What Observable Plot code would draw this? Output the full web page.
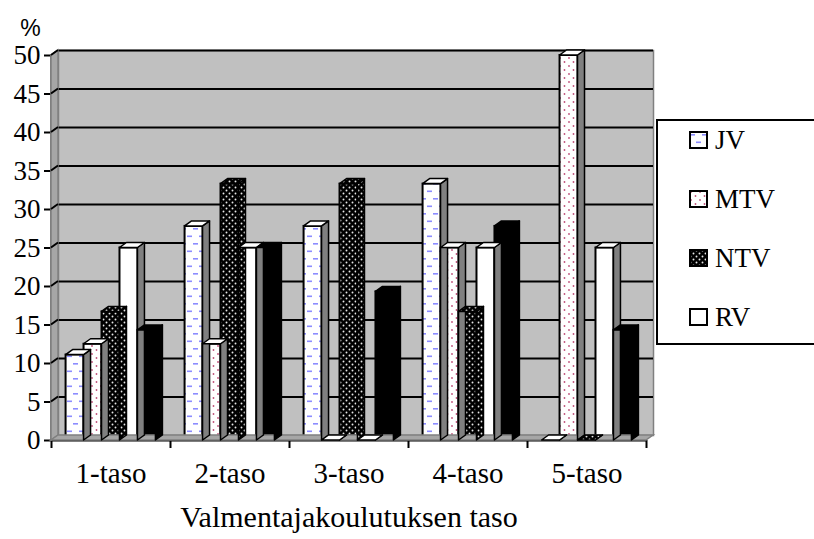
<!DOCTYPE html>
<html><head><meta charset="utf-8">
<script src="https://cdn.jsdelivr.net/npm/d3@7"></script>
<script src="https://cdn.jsdelivr.net/npm/@observablehq/plot@0.6"></script>
<style>
html,body{margin:0;padding:0;background:#fff;overflow:hidden}
#wrap{position:relative;width:814px;height:539px;overflow:hidden}
#legend{position:absolute;left:656px;top:119px;width:190px;height:222px;border:2px solid #000;background:#fff;font-family:"Liberation Serif",serif;font-size:27px;color:#000}
.row{position:absolute;left:31px;height:30px;display:flex;align-items:center;white-space:nowrap}
.row svg{margin-right:7px;display:block}
</style></head><body><div id="wrap"></div>
<script>
// ---- data ----
const groups = ["1-taso", "2-taso", "3-taso", "4-taso", "5-taso"];
const seriesNames = ["JV", "MTV", "NTV", "RV", "muu"];
const legendNames = ["JV", "MTV", "NTV", "RV"];
const JV  = [11.1, 27.8, 27.8, 33.3, 0];
const MTV = [12.5, 12.5, 0, 25, 50];
const NTV = [16.7, 33.3, 33.3, 16.7, 0];
const RV  = [25, 25, 0, 25, 25];
const MUU = [14.3, 25, 19.3, 27.8, 14.3];
const yTicks = [0, 5, 10, 15, 20, 25, 30, 35, 40, 45, 50];
const yLabel = "%";
const xTitle = "Valmentajakoulutuksen taso";

// ---- styles ----
const SERIF = "Liberation Serif";
const valuesBySeries = [JV, MTV, NTV, RV, MUU];
const frontFills = ["url(#pJV)", "url(#pMTV)", "url(#pNTV)", "#ffffff", "#000000"];
const sideFills  = ["#808080", "#808080", "url(#pNTV)", "#808080", "#000000"];
const topFills   = ["#ffffff", "#ffffff", "url(#pNTV)", "#ffffff", "#000000"];
const BW = 0.151;           // bar width as a fraction of a category band
const DX = 7, DY = 5;       // 3-D depth in pixels

const bars = [];
groups.forEach((g, gi) => seriesNames.forEach((s, si) => {
  const x1 = gi + 0.5 + (si - 2.5) * BW;
  bars.push({group: g, series: s, si, value: valuesBySeries[si][gi], x1, x2: x1 + BW, fill: frontFills[si]});
}));

const chart = Plot.plot({
  width: 814, height: 539,
  marginLeft: 51, marginRight: 168, marginTop: 55, marginBottom: 99,
  x: {type: "linear", domain: [0, groups.length]},
  y: {domain: [0, 50]},
  color: {type: "identity"},
  style: {fontFamily: SERIF, color: "#000", background: "transparent", overflow: "visible"},
  marks: [
    Plot.frame({fill: "#c0c0c0", stroke: "#808080", strokeWidth: 1.5, dx: DX, dy: -DY}),
    Plot.ruleY(yTicks.slice(1), {stroke: "#000", strokeWidth: 2, dx: DX, dy: -DY, ariaLabel: "grid"}),
    Plot.rect(bars, {x1: "x1", x2: "x2", y1: 0, y2: "value", fill: "fill", stroke: "#000", strokeWidth: 2, ariaLabel: "fronts"}),
    Plot.ruleY([0], {stroke: "#000", strokeWidth: 2}),
    Plot.ruleX([0], {stroke: "#000", strokeWidth: 2}),
    Plot.axisY({ticks: yTicks, tickSize: 7, tickPadding: 4, fontSize: 27, fontFamily: SERIF, tickFormat: d => String(d), label: null, strokeWidth: 2}),
    Plot.axisX({ticks: d3.range(groups.length + 1), tickSize: 8, tickFormat: () => "", label: null, strokeWidth: 2}),
    Plot.axisX({ticks: groups.map((g, i) => i + 0.5), tickSize: 0, tickPadding: 22, fontSize: 29, fontFamily: SERIF, tickFormat: d => groups[Math.floor(d)], label: null}),
    Plot.text([xTitle], {frameAnchor: "bottom", dy: 86, fontSize: 30, fontFamily: SERIF}),
    Plot.text([yLabel], {frameAnchor: "top-left", textAnchor: "middle", dx: -21, dy: -36, fontSize: 23, fontFamily: "Liberation Sans"})
  ]
});

// ---- patterns ----
const NS = "http://www.w3.org/2000/svg";
const defs = d3.select(chart).insert("defs", ":first-child");
const pJV = defs.append("pattern").attr("id", "pJV").attr("patternUnits", "userSpaceOnUse").attr("width", 12).attr("height", 15);
pJV.append("rect").attr("width", 12).attr("height", 15).attr("fill", "#fff");
pJV.append("rect").attr("x", 1).attr("y", 3).attr("width", 5).attr("height", 1.6).attr("fill", "#8c8cff");
pJV.append("rect").attr("x", 7).attr("y", 10.5).attr("width", 5).attr("height", 1.6).attr("fill", "#8c8cff");
const pMTV = defs.append("pattern").attr("id", "pMTV").attr("patternUnits", "userSpaceOnUse").attr("width", 9).attr("height", 8);
pMTV.append("rect").attr("width", 9).attr("height", 8).attr("fill", "#fff");
pMTV.append("circle").attr("cx", 2).attr("cy", 2).attr("r", 0.9).attr("fill", "#c0507a");
pMTV.append("circle").attr("cx", 6.5).attr("cy", 6).attr("r", 0.9).attr("fill", "#c0507a");
const pNTV = defs.append("pattern").attr("id", "pNTV").attr("patternUnits", "userSpaceOnUse").attr("width", 6).attr("height", 6);
pNTV.append("rect").attr("width", 6).attr("height", 6).attr("fill", "#000");
pNTV.append("circle").attr("cx", 1.5).attr("cy", 1.5).attr("r", 0.95).attr("fill", "#e8e8e8");
pNTV.append("circle").attr("cx", 4.5).attr("cy", 4.5).attr("r", 0.95).attr("fill", "#e8e8e8");

// ---- 3-D decorations drawn through the plot's own scales ----
const sx = chart.scale("x"), sy = chart.scale("y");
const X = d3.scaleLinear(sx.domain, sx.range), Y = d3.scaleLinear(sy.domain, sy.range);
const poly = pts => pts.map(p => p.join(",")).join(" ");

const gridNode = chart.querySelector('[aria-label="grid"]');
const walls = d3.select(chart.insertBefore(document.createElementNS(NS, "g"), gridNode));
const x0 = X(0), x5 = X(groups.length), y0 = Y(0), y50 = Y(50);
walls.append("polygon").attr("points", poly([[x0, y0], [x0, y50], [x0 + DX, y50 - DY], [x0 + DX, y0 - DY]]))
  .attr("fill", "#a6a6a6").attr("stroke", "#808080").attr("stroke-width", 1.5);
walls.append("polygon").attr("points", poly([[x0, y0], [x5, y0], [x5 + DX, y0 - DY], [x0 + DX, y0 - DY]]))
  .attr("fill", "#a6a6a6").attr("stroke", "#808080").attr("stroke-width", 1.5);
yTicks.slice(1).forEach(v => {
  walls.append("line").attr("x1", x0).attr("y1", Y(v)).attr("x2", x0 + DX).attr("y2", Y(v) - DY)
    .attr("stroke", "#000").attr("stroke-width", 2);
});

const frontNode = chart.querySelector('[aria-label="fronts"]');
const faces = d3.select(chart.insertBefore(document.createElementNS(NS, "g"), frontNode));
bars.forEach(b => {
  const a = X(b.x1), c = X(b.x2), yv = Y(b.value);
  faces.append("polygon").attr("points", poly([[c, y0], [c, yv], [c + DX, yv - DY], [c + DX, y0 - DY]]))
    .attr("fill", sideFills[b.si]).attr("stroke", "#000").attr("stroke-width", 1.5).attr("stroke-linejoin", "round");
  faces.append("polygon").attr("points", poly([[a, yv], [a + DX, yv - DY], [c + DX, yv - DY], [c, yv]]))
    .attr("fill", topFills[b.si]).attr("stroke", "#000").attr("stroke-width", 1.5).attr("stroke-linejoin", "round");
});

const wrap = document.getElementById("wrap");
wrap.appendChild(chart);

// ---- legend (first four series, as in the original) ----
const legend = d3.select(wrap).append("div").attr("id", "legend");
legendNames.forEach((name, i) => {
  const row = legend.append("div").attr("class", "row").style("top", (4 + i * 59) + "px");
  const sw = row.append("svg").attr("width", 19).attr("height", 18);
  sw.append("rect").attr("x", 1).attr("y", 1).attr("width", 17).attr("height", 16)
    .attr("fill", frontFills[i]).attr("stroke", "#000").attr("stroke-width", 2);
  row.append("span").text(name);
});
</script>
</body></html>
